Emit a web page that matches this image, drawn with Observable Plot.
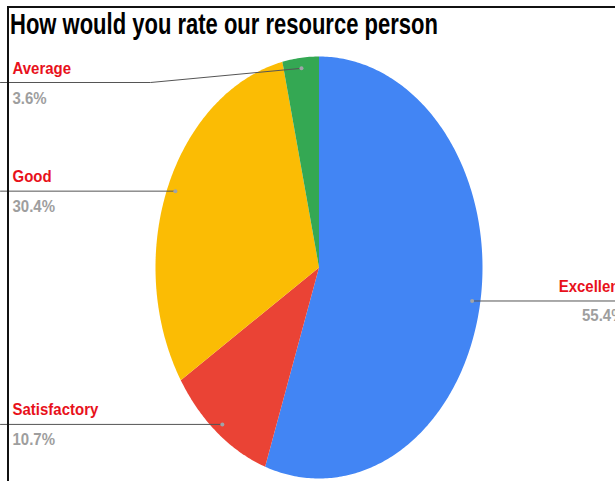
<!DOCTYPE html>
<html><head><meta charset="utf-8">
<script src="https://cdn.jsdelivr.net/npm/d3@7"></script>
<script src="https://cdn.jsdelivr.net/npm/@observablehq/plot@0.6"></script>
<style>
html,body{margin:0;padding:0;background:#fff;overflow:hidden;}
#wrap{position:relative;width:615px;height:481px;overflow:hidden;background:#fff;}
#chart{position:absolute;left:0;top:0;}
#title{position:absolute;left:10px;top:11px;font:bold 22px "Liberation Sans",Arial,sans-serif;line-height:22px;white-space:nowrap;transform:scaleY(1.3);transform-origin:0 0;color:#000;}
#bl{position:absolute;left:7px;top:6px;width:2px;height:475px;background:#111;}
#bt{position:absolute;left:7px;top:6px;width:608px;height:2px;background:#111;}
</style></head>
<body>
<div id="wrap">
  <div id="chart"></div>
  <div id="title">How would you rate our resource person</div>
  <div id="bl"></div><div id="bt"></div>
</div>
<script>
// ---- data ----
const categories = ["Excellent", "Satisfactory", "Good", "Average"];
const percents = [55.4, 10.7, 30.4, 3.6];
const percentLabels = ["55.4%", "10.7%", "30.4%", "3.6%"];
const colors = ["#4285f4", "#ea4335", "#fbbc04", "#34a853"];

// ---- layout (pixels) ----
const W = 615, H = 481;
const X = d3.scaleLinear([-1, 1], [155, 482]);
const Y = d3.scaleLinear([-1, 1], [478, 56]);
const side = {Excellent: "right", Satisfactory: "left", Good: "left", Average: "left"};
const forcedLineY = {Average: 82};
const elbowX = {Average: 150};
const dotR = 0.95;

const rows = categories.map((c, i) => ({label: c, value: percents[i], pct: percentLabels[i]}));
const arcs = d3.pie().sort(null).value(d => d.value).startAngle(0).endAngle(2 * Math.PI)(rows);

// slice outlines sampled along the arc
const slicePts = [];
for (const a of arcs) {
  slicePts.push({label: a.data.label, x: 0, y: 0});
  const n = Math.max(8, Math.ceil((a.endAngle - a.startAngle) * 80));
  for (let i = 0; i <= n; i++) {
    const t = a.startAngle + (a.endAngle - a.startAngle) * i / n;
    slicePts.push({label: a.data.label, x: Math.sin(t), y: Math.cos(t)});
  }
}

// leader lines, dots and labels
const leaderPts = [], dots = [], labels = [];
for (const a of arcs) {
  const m = (a.startAngle + a.endAngle) / 2;
  const px = dotR * Math.sin(m), py = dotR * Math.cos(m);
  const lab = a.data.label;
  dots.push({label: lab, px, py});
  const lineYpx = forcedLineY[lab] ?? Y(py);
  const ly = Y.invert(lineYpx);
  if (side[lab] === "left") {
    leaderPts.push({label: lab, x: X.invert(0), y: ly});
    if (elbowX[lab] != null) leaderPts.push({label: lab, x: X.invert(elbowX[lab]), y: ly});
    leaderPts.push({label: lab, x: px, y: forcedLineY[lab] != null ? py : ly});
    labels.push({label: lab, pct: a.data.pct, side: "left", tx: X.invert(12),
      ny: Y.invert(lineYpx - 9), vy: Y.invert(lineYpx + 21)});
  } else {
    leaderPts.push({label: lab, x: px, y: ly});
    leaderPts.push({label: lab, x: X.invert(W + 20), y: ly});
    labels.push({label: lab, pct: a.data.pct, side: "right", tx: X.invert(624),
      ny: Y.invert(lineYpx - 9), vy: Y.invert(lineYpx + 20)});
  }
}
const left = labels.filter(d => d.side === "left");
const right = labels.filter(d => d.side === "right");
const nameColor = "#e8111b", valColor = "#9e9e9e";
const textOpts = {fontWeight: "bold", fontSize: 15, lineAnchor: "bottom"};

const chart = Plot.plot({
  width: W, height: H,
  marginTop: 0, marginRight: 0, marginBottom: 0, marginLeft: 0,
  x: {domain: [-1, 1], range: [X(-1), X(1)], axis: null},
  y: {domain: [-1, 1], range: [Y(-1), Y(1)], axis: null},
  color: {domain: categories, range: colors},
  style: {fontFamily: "Liberation Sans, Arial, sans-serif", background: "transparent", overflow: "hidden"},
  marks: [
    Plot.line(slicePts, {x: "x", y: "y", z: "label", fill: "label", stroke: null, curve: "linear-closed"}),
    Plot.line(leaderPts, {x: "x", y: "y", z: "label", stroke: "#555", strokeWidth: 1}),
    Plot.dot(dots, {x: "px", y: "py", r: 2, fill: "#a0a4a8", stroke: null}),
    Plot.text(left, {x: "tx", y: "ny", text: "label", fill: nameColor, textAnchor: "start", ...textOpts}),
    Plot.text(left, {x: "tx", y: "vy", text: "pct", fill: valColor, textAnchor: "start", ...textOpts}),
    Plot.text(right, {x: "tx", y: "ny", text: "label", fill: nameColor, textAnchor: "end", ...textOpts}),
    Plot.text(right, {x: "tx", y: "vy", text: "pct", fill: valColor, textAnchor: "end", ...textOpts})
  ]
});
// stretch label text vertically like the reference
chart.querySelectorAll("text").forEach(t => {
  const tr = t.getAttribute("transform") || "";
  const x = +(t.getAttribute("x") || 0), y = +(t.getAttribute("y") || 0);
  t.removeAttribute("x"); t.removeAttribute("y");
  t.setAttribute("transform", `${tr} translate(${x},${y}) scale(1,1.15)`);
});
document.getElementById("chart").appendChild(chart);
</script>
</body></html>
